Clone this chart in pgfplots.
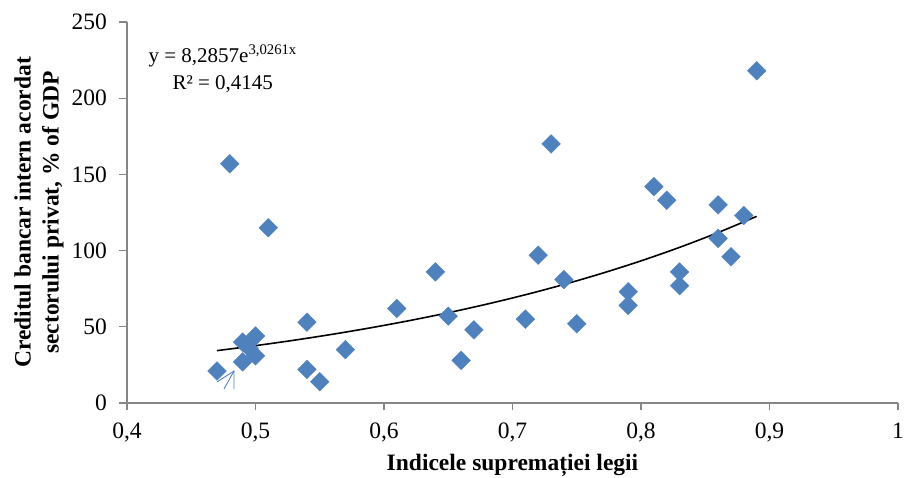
\documentclass[border=0pt]{standalone}
\usepackage{fontspec}
\setmainfont{Liberation Serif}
\usepackage{pgfplots}
\pgfplotsset{compat=1.18}
\definecolor{mk}{HTML}{4F81BD}
\definecolor{ax}{HTML}{868686}
\begin{document}
\begin{tikzpicture}
\begin{axis}[
  scale only axis, width=771pt, height=381pt,
  xmin=0.4, xmax=1, ymin=0, ymax=250,
  axis lines*=left,
  axis line style={ax, line width=1.2pt},
  xtick={0.4,0.5,0.6,0.7,0.8,0.9,1},
  xticklabels={0{,}4,0{,}5,0{,}6,0{,}7,0{,}8,0{,}9,1},
  ytick={0,50,100,150,200,250},
  tick align=outside, major tick length=7.5pt,
  tick style={ax, line width=1.2pt},
  /pgf/number format/assume math mode=true,
  ticklabel style={font=\fontsize{23.5}{28}\selectfont},
  xticklabel style={yshift=-9pt},
  yticklabel style={xshift=-9pt},
  xlabel={Indicele supremației legii},
  ylabel={Creditul bancar intern acordat\\sectorului privat, \% of GDP},
  xlabel style={font=\bfseries\fontsize{23.5}{28}\selectfont, at={(axis description cs:0.5,0)}, anchor=center, yshift=-62pt},
  ylabel style={font=\bfseries\fontsize{23.5}{28}\selectfont, align=center, at={(axis description cs:0,0.5)}, anchor=center, yshift=88pt},
  clip=false,
]
\addplot[only marks, mark=square*, mark size=6.6pt, mark options={rotate=45, fill=mk, draw=mk}] coordinates {
(0.47,21) (0.48,157) (0.49,40) (0.49,27) (0.50,44) (0.50,31) (0.495,36)
(0.51,115) (0.54,53) (0.54,22) (0.55,14) (0.57,35) (0.61,62) (0.64,86)
(0.65,57) (0.66,28) (0.67,48) (0.71,55) (0.72,97) (0.73,170) (0.74,81)
(0.75,52) (0.79,73) (0.79,64) (0.81,142) (0.82,133) (0.83,86) (0.83,77)
(0.86,130) (0.86,108) (0.87,96) (0.88,123) (0.89,218)
};
\addplot[black, line width=1.6pt, smooth] coordinates {
(0.47,34.36) (0.50,37.62) (0.53,41.19) (0.56,45.11) (0.59,49.40) (0.62,54.09)
(0.65,59.23) (0.68,64.86) (0.71,71.02) (0.74,77.77) (0.77,85.17) (0.80,93.26)
(0.83,102.12) (0.86,111.83) (0.89,122.45)
};
\draw[mk, line width=0.9pt] (axis cs:0.4755,9.2) -- (axis cs:0.4833,21);
\draw[mk, line width=0.9pt] (axis cs:0.4833,9.2) -- (axis cs:0.4833,21) -- (axis cs:0.470,13.8);
\node[align=center, font=\fontsize{21}{27}\selectfont] at (axis cs:0.4745,219.5) {y = 8,2857e\textsuperscript{3,0261x}\\R² = 0,4145};
\end{axis}
\pgfresetboundingbox
\path (-127pt,-75pt) rectangle (777pt,403pt);
\end{tikzpicture}
\end{document}
